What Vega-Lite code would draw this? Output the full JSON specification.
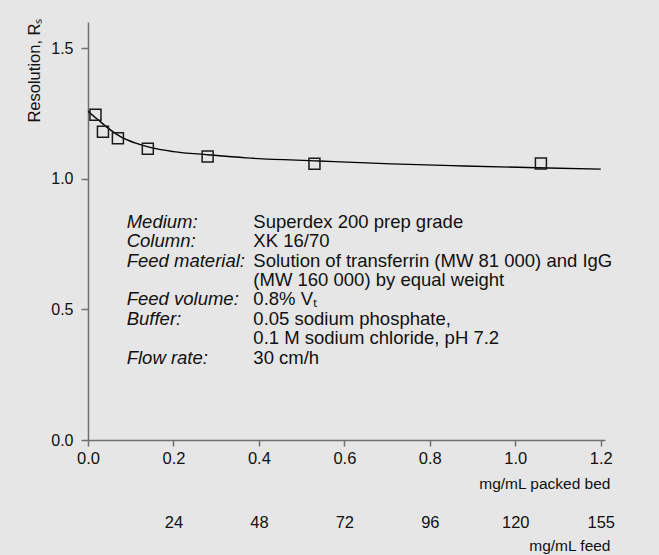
{
  "$schema": "https://vega.github.io/schema/vega-lite/v6.json",
  "width": 517,
  "height": 418,
  "autosize": "none",
  "padding": {"left": 88, "top": 22, "right": 54, "bottom": 115},
  "background": "#e6e6e6",
  "config": {
    "view": {"stroke": null},
    "font": "Liberation Sans",
    "axis": {
      "grid": false,
      "domainColor": "#707070",
      "tickColor": "#707070",
      "domainWidth": 1.5,
      "tickWidth": 1.5,
      "labelColor": "#111111",
      "titleColor": "#111111",
      "labelFont": "Liberation Sans",
      "titleFont": "Liberation Sans",
      "titleFontWeight": "normal",
      "labelFlush": false,
      "labelOverlap": false,
      "labelBound": false
    }
  },
  "datasets": {
    "curve": [
      {"load": 0.0, "rs": 1.258},
      {"load": 0.024, "rs": 1.225},
      {"load": 0.05, "rs": 1.19},
      {"load": 0.075, "rs": 1.162},
      {"load": 0.11, "rs": 1.137},
      {"load": 0.15, "rs": 1.118},
      {"load": 0.2, "rs": 1.104},
      {"load": 0.28, "rs": 1.092},
      {"load": 0.37, "rs": 1.08},
      {"load": 0.54, "rs": 1.068},
      {"load": 0.71, "rs": 1.057},
      {"load": 0.88, "rs": 1.049},
      {"load": 1.05, "rs": 1.042},
      {"load": 1.2, "rs": 1.037}
    ],
    "points": [
      {"load": 0.0175, "rs": 1.245},
      {"load": 0.035, "rs": 1.18},
      {"load": 0.07, "rs": 1.155},
      {"load": 0.14, "rs": 1.115},
      {"load": 0.28, "rs": 1.085},
      {"load": 0.53, "rs": 1.057},
      {"load": 1.06, "rs": 1.058}
    ],
    "notes": [
      {"lx": 0.0906, "vx": 0.387, "y": 0.836, "label": "Medium:", "value": "Superdex 200 prep grade"},
      {"lx": 0.0906, "vx": 0.387, "y": 0.762, "label": "Column:", "value": "XK 16/70"},
      {"lx": 0.0906, "vx": 0.387, "y": 0.687, "label": "Feed material:", "value": "Solution of transferrin (MW 81 000) and IgG"},
      {"lx": 0.0906, "vx": 0.387, "y": 0.612, "label": "", "value": "(MW 160 000) by equal weight"},
      {"lx": 0.0906, "vx": 0.387, "y": 0.538, "label": "Feed volume:", "value": "0.8% Vₜ"},
      {"lx": 0.0906, "vx": 0.387, "y": 0.463, "label": "Buffer:", "value": "0.05 sodium phosphate,"},
      {"lx": 0.0906, "vx": 0.387, "y": 0.389, "label": "", "value": "0.1 M sodium chloride, pH 7.2"},
      {"lx": 0.0906, "vx": 0.387, "y": 0.314, "label": "Flow rate:", "value": "30 cm/h"}
    ]
  },
  "layer": [
    {
      "data": {"name": "curve"},
      "mark": {"type": "line", "color": "#000000", "strokeWidth": 1.4, "interpolate": "monotone"},
      "encoding": {
        "x": {
          "field": "load",
          "type": "quantitative",
          "scale": {"domain": [0, 1.21], "nice": false, "zero": false},
          "axis": {
            "orient": "bottom",
            "values": [0, 0.2, 0.4, 0.6, 0.8, 1.0, 1.2],
            "format": ".1f",
            "tickSize": 6,
            "labelPadding": 4,
            "labelFontSize": 16.5,
            "title": "mg/mL packed bed",
            "titleFontSize": 15.5,
            "titleX": 522,
            "titleY": 43,
            "titleAlign": "right",
            "titleBaseline": "middle"
          }
        },
        "y": {
          "field": "rs",
          "type": "quantitative",
          "scale": {"domain": [0, 1.6], "nice": false, "zero": false},
          "axis": {
            "orient": "left",
            "values": [0, 0.5, 1.0, 1.5],
            "format": ".1f",
            "tickSize": 7,
            "labelPadding": 8,
            "labelFontSize": 16,
            "title": "Resolution, Rₛ",
            "titleFontSize": 16.5,
            "titleAngle": -90,
            "titleX": -54,
            "titleY": -4,
            "titleAlign": "right",
            "titleBaseline": "middle"
          }
        }
      }
    },
    {
      "data": {"name": "points"},
      "mark": {"type": "point", "shape": "square", "size": 121, "filled": false, "stroke": "#1a1a1a", "strokeWidth": 1.5, "opacity": 1},
      "encoding": {
        "x": {
          "field": "load",
          "type": "quantitative",
          "axis": {
            "orient": "bottom",
            "offset": 74,
            "domain": false,
            "ticks": false,
            "tickSize": 0,
            "labelPadding": 0,
            "values": [0.2, 0.4, 0.6, 0.8, 1.0, 1.2],
            "labelExpr": "datum.value < 0.3 ? '24' : datum.value < 0.5 ? '48' : datum.value < 0.7 ? '72' : datum.value < 0.9 ? '96' : datum.value < 1.1 ? '120' : '155'",
            "labelFontSize": 16.5,
            "title": "mg/mL feed",
            "titleFontSize": 15.5,
            "titleX": 522,
            "titleY": 31,
            "titleAlign": "right",
            "titleBaseline": "middle"
          }
        },
        "y": {"field": "rs", "type": "quantitative", "axis": null}
      }
    },
    {
      "data": {"name": "notes"},
      "mark": {"type": "text", "align": "left", "baseline": "middle", "fontSize": 18.5, "fontStyle": "italic", "color": "#111111"},
      "encoding": {
        "x": {"field": "lx", "type": "quantitative", "axis": null},
        "y": {"field": "y", "type": "quantitative", "axis": null},
        "text": {"field": "label"}
      }
    },
    {
      "data": {"name": "notes"},
      "mark": {"type": "text", "align": "left", "baseline": "middle", "fontSize": 18.5, "color": "#111111"},
      "encoding": {
        "x": {"field": "vx", "type": "quantitative", "axis": null},
        "y": {"field": "y", "type": "quantitative", "axis": null},
        "text": {"field": "value"}
      }
    }
  ],
  "resolve": {"axis": {"x": "independent", "y": "independent"}}
}
